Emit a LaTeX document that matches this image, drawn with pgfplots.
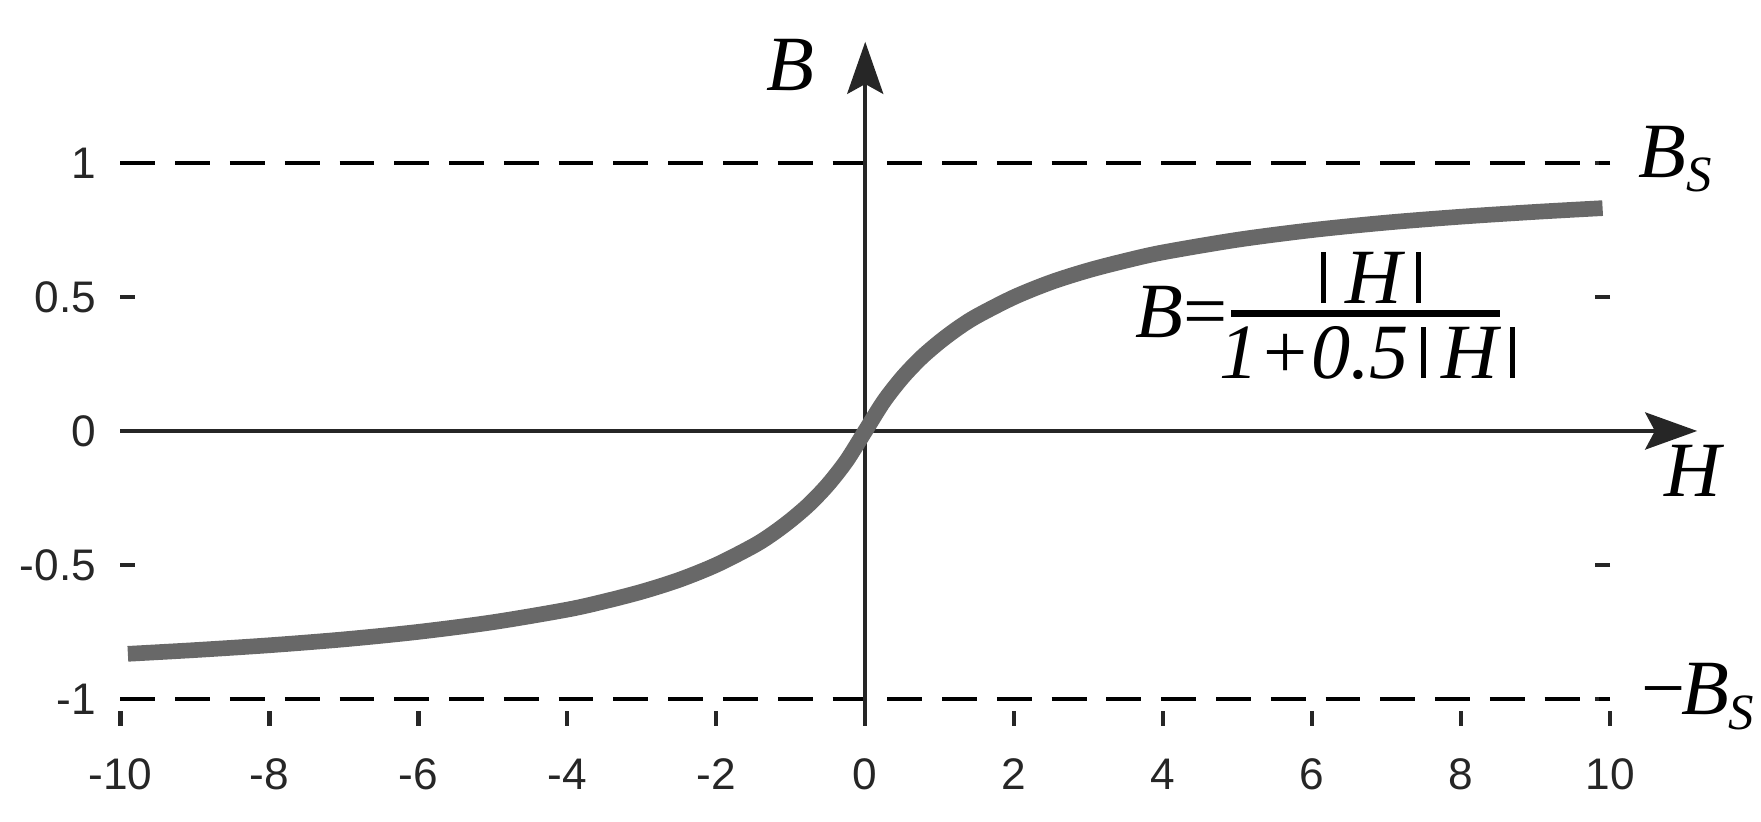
\documentclass[border=0pt]{standalone}
\usepackage{fontspec}
\setmainfont{Liberation Sans}
\newfontfamily\lserif{Liberation Serif}
\usepackage{pgfplots}
\pgfplotsset{compat=1.18}
\usetikzlibrary{arrows.meta}
\definecolor{axcol}{RGB}{38,38,38}
\definecolor{curvecol}{RGB}{104,104,104}
\newcommand{\mi}{\lserif\itshape}
\newcommand{\vb}{\rule{1.3pt}{13.2pt}}
\begin{document}
\begin{tikzpicture}
\begin{axis}[
  scale only axis,
  width=380.7pt, height=150.6pt,
  xmin=-10, xmax=10, ymin=-1.1, ymax=1.1,
  clip=false,
  axis line style={draw=none},
  xtick={-10,-8,-6,-4,-2,0,2,4,6,8,10},
  xticklabels={-10,-8,-6,-4,-2,0,2,4,6,8,10},
  ytick={-1,-0.5,0,0.5,1},
  yticklabels={-1,-0.5,0,0.5,1},
  xtick pos=left, ytick pos=both,
  xticklabel pos=left, yticklabel pos=left,
  tick align=inside,
  major tick length=3.8pt,
  tick style={color=axcol, line width=1.1pt},
  every tick label/.append style={font=\fontsize{11.3}{13}\selectfont, text=axcol},
  xticklabel style={yshift=-5pt},
  yticklabel style={xshift=-2.7pt},
]
% dashed saturation lines
\addplot[black, line width=0.95pt, dash pattern=on 8.9pt off 5.1pt] coordinates {(-10,1) (10,1)};
\addplot[black, line width=0.95pt, dash pattern=on 8.9pt off 5.1pt] coordinates {(-10,-1) (10,-1)};
% axes with arrows
\addplot[axcol, line width=1pt, -{Stealth[length=13.3pt, width=9.5pt, inset=2.5pt]}] coordinates {(-10,0) (11.17,0)};
\addplot[axcol, line width=1pt, -{Stealth[length=13.3pt, width=9.2pt, inset=2.5pt]}] coordinates {(0,-1.1) (0,1.453)};
% curve
\addplot[curvecol, line width=4pt, smooth] coordinates {
(-9.9,-0.832) (-9,-0.818) (-8,-0.800) (-7,-0.778) (-6,-0.750) (-5,-0.714)
(-4,-0.667) (-3.5,-0.636) (-3,-0.600) (-2.5,-0.556) (-2,-0.500) (-1.5,-0.429)
(-1.25,-0.385) (-1,-0.333) (-0.75,-0.273) (-0.5,-0.200) (-0.25,-0.111) (0,0)
(0.25,0.111) (0.5,0.200) (0.75,0.273) (1,0.333) (1.25,0.385) (1.5,0.429)
(2,0.500) (2.5,0.556) (3,0.600) (3.5,0.636) (4,0.667) (5,0.714) (6,0.750)
(7,0.778) (8,0.800) (9,0.818) (9.9,0.832)};
% labels
\node[anchor=base west, inner sep=0, font=\fontsize{20}{24}\selectfont\mi] at (axis cs:-1.33,1.273) {B};
\node[anchor=base west, inner sep=0, font=\fontsize{20}{24}\selectfont\mi] at (axis cs:10.72,-0.246) {H};
\node[anchor=base west, inner sep=0, font=\fontsize{20}{24}\selectfont\mi] at (axis cs:10.37,0.948) {B\raisebox{-3.8pt}{\fontsize{13}{13}\selectfont S}};
\node[anchor=base west, inner sep=0, font=\fontsize{20}{24}\selectfont\mi] at (axis cs:10.34,-1.06) {−\kern-2pt B\raisebox{-3.8pt}{\fontsize{13}{13}\selectfont S}};
% formula
\node[anchor=base west, inner sep=0, font=\fontsize{20}{24}\selectfont\mi] at (axis cs:3.62,0.350) {B\kern-1.2pt=};
\node[anchor=base, inner sep=0, font=\fontsize{20}{24}\selectfont\mi] at (axis cs:6.79,0.477) {\vb\hspace{5pt}H\hspace{3.5pt}\vb};
\node[anchor=center, inner sep=0] at (axis cs:6.718,0.438) {\rule{68.7pt}{1.9pt}};
\node[anchor=base, inner sep=0, font=\fontsize{20}{24}\selectfont\mi] at (axis cs:6.738,0.197) {1+0.5\hspace{3pt}\vb\hspace{4pt}H\hspace{3pt}\vb};
\coordinate (bl) at (axis cs:-11.617,-1.4595);
\coordinate (tr) at (axis cs:12.027,1.609);
\end{axis}
\pgfresetboundingbox
\path[use as bounding box] (bl) rectangle (tr);
\end{tikzpicture}
\end{document}
